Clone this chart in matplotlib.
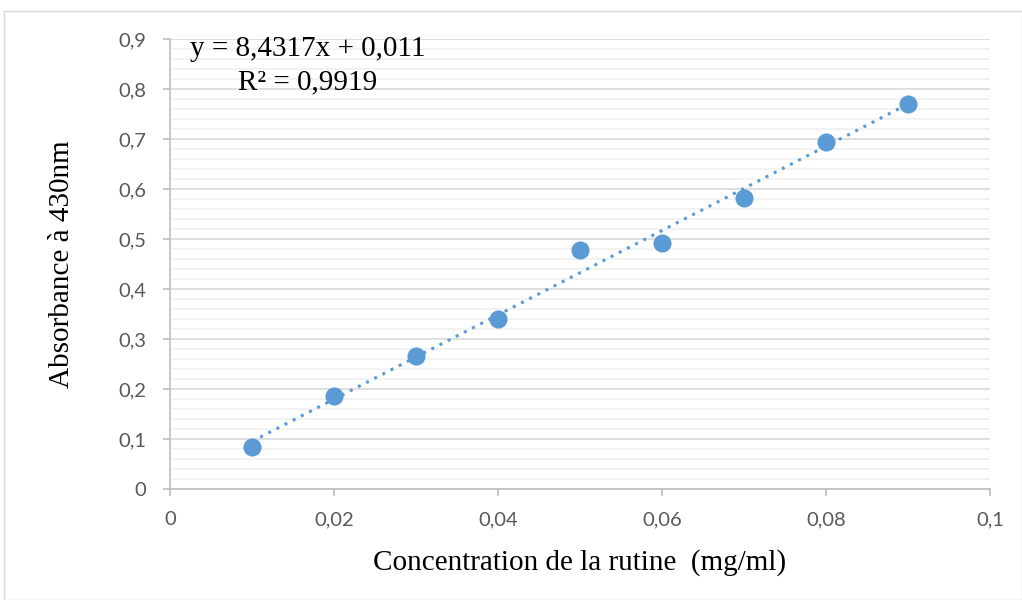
import matplotlib
matplotlib.use("Agg")
import matplotlib.pyplot as plt
from matplotlib.patches import Rectangle
from matplotlib.ticker import MultipleLocator, FuncFormatter

conc = [0.01, 0.02, 0.03, 0.04, 0.05, 0.06, 0.07, 0.08, 0.09]
absorb = [0.084, 0.186, 0.266, 0.340, 0.479, 0.492, 0.582, 0.694, 0.770]
slope = 8.4317
intercept = 0.011

blue = "#5b9bd5"
grey = "#595959"

fig = plt.figure(figsize=(10.22, 6), dpi=100)
fig.patches.append(Rectangle((4/1022, 0), 1 - 4/1022, 1 - 11/600, transform=fig.transFigure,
                             fill=False, edgecolor="#d9d9d9", linewidth=1))
ax = fig.add_axes([170/1022, 111/600, 820/1022, 450/600])

# trend line
fit_x = [conc[0], conc[-1]]
fit_y = [slope * v + intercept for v in fit_x]
ax.plot(fit_x, fit_y, linestyle=(0, (1, 2)), color=blue, linewidth=2.2, zorder=2)
ax.scatter(conc, absorb, s=170, color=blue, zorder=3, linewidths=0)

ax.set_xlim(0, 0.1)
ax.set_ylim(0, 0.9)
ax.xaxis.set_major_locator(MultipleLocator(0.02))
ax.yaxis.set_major_locator(MultipleLocator(0.1))
ax.yaxis.set_minor_locator(MultipleLocator(0.02))

def comma(v, pos):
    s = ("%.2f" % v).rstrip("0").rstrip(".")
    return s.replace(".", ",")

ax.xaxis.set_major_formatter(FuncFormatter(comma))
ax.yaxis.set_major_formatter(FuncFormatter(comma))

ax.grid(axis="y", which="major", color="#d9d9d9", linewidth=1.2)
ax.grid(axis="y", which="minor", color="#f0f0f0", linewidth=1.2)
ax.set_axisbelow(True)
for s in ["top", "right"]:
    ax.spines[s].set_visible(False)
for s in ["left", "bottom"]:
    ax.spines[s].set_color("#bfbfbf")
    ax.spines[s].set_linewidth(1.2)
ax.tick_params(axis="both", which="major", colors="#bfbfbf", labelcolor=grey,
               labelsize=14.5, length=5, width=1.2)
ax.tick_params(axis="y", which="minor", length=0)
for lab in ax.get_xticklabels() + ax.get_yticklabels():
    lab.set_family("Lato")
ax.tick_params(axis="x", pad=11)
ax.tick_params(axis="y", pad=12)

ax.set_xlabel("Concentration de la rutine  (mg/ml)", family="Liberation Serif",
              fontsize=21, labelpad=15)
ax.set_ylabel("Absorbance à 430nm", family="Liberation Serif", fontsize=21, labelpad=31)

ax.text(0.0025, 0.879, "y = 8,4317x + 0,011", family="Liberation Serif", fontsize=21,
        va="center", ha="left")
ax.text(0.0083, 0.814, "R² = 0,9919", family="Liberation Serif", fontsize=21,
        va="center", ha="left")

fig.savefig("out.png", dpi=100)
